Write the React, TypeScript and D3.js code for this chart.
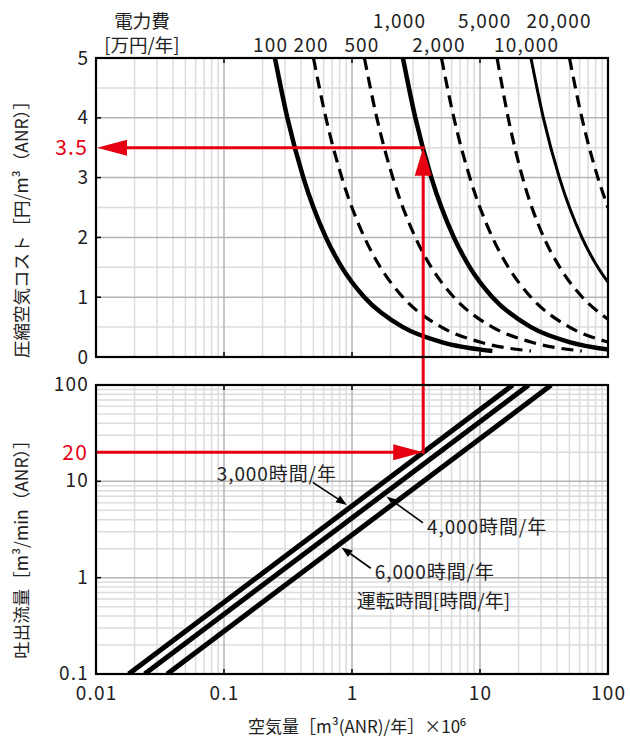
import React from 'react';
import * as d3 from 'd3';

// ---------- data ----------
const xTickValues = [0.01, 0.1, 1, 10, 100];
const xTickLabels = ['0.01', '0.1', '1', '10', '100'];
const costTickValues = [0, 1, 2, 3, 4, 5];
const flowTickValues = [0.1, 1, 10, 100];
const flowTickLabels = ['0.1', '1', '10', '100'];

// electricity cost curves: [air volume (x10^6 m3/yr), compressed air cost (yen/m3)]
const cost100 = [[0.25, 5], [0.3125, 4], [0.4167, 3], [0.625, 2], [0.833, 1.5], [1.25, 1], [2.5, 0.5], [5, 0.25], [12.5, 0.1]];
const cost200 = [[0.5, 5], [0.625, 4], [0.833, 3], [1.25, 2], [1.667, 1.5], [2.5, 1], [5, 0.5], [10, 0.25], [25, 0.1]];
const cost500 = [[1.25, 5], [1.5625, 4], [2.083, 3], [3.125, 2], [4.167, 1.5], [6.25, 1], [12.5, 0.5], [25, 0.25], [62.5, 0.1]];
const cost1000 = [[2.5, 5], [3.125, 4], [4.167, 3], [6.25, 2], [8.33, 1.5], [12.5, 1], [25, 0.5], [50, 0.25], [100, 0.125]];
const cost2000 = [[5, 5], [6.25, 4], [8.33, 3], [12.5, 2], [16.67, 1.5], [25, 1], [50, 0.5], [100, 0.25]];
const cost5000 = [[13.6, 5], [16.6, 4], [21.5, 3], [31.5, 2], [42, 1.5], [63, 1], [100, 0.63]];
const cost10000 = [[25, 5], [31.25, 4], [41.7, 3], [62.5, 2], [83.3, 1.5], [100, 1.25]];
const cost20000 = [[50, 5], [62.5, 4], [83.3, 3], [100, 2.5]];
const costSeries = [cost100, cost200, cost500, cost1000, cost2000, cost5000, cost10000, cost20000];
const costLabels = ['100', '200', '500', '1,000', '2,000', '5,000', '10,000', '20,000'];

// discharge flow lines: [air volume (x10^6 m3/yr), flow (m3/min)]
const flow3000 = [[0.018, 0.1], [18, 100]];
const flow4000 = [[0.024, 0.1], [24, 100]];
const flow6000 = [[0.036, 0.1], [36, 100]];
const flowSeries = [flow3000, flow4000, flow6000];
const flowLabels = ['3,000時間/年', '4,000時間/年', '6,000時間/年'];
// points on each line the label arrows point at: [volume, flow]
const flowArrowAnchors = [[0.97, 5.4], [1.76, 7.33], [0.78, 2.18]];

// worked example
const exampleFlow = 20;
const exampleVolume = 3.6;
const exampleCost = 3.5;

// ---------- layout / style ----------
const W = 630, H = 738;
const L = 96, R = 608;
const topY0 = 58, topY1 = 357;
const botY0 = 385, botY1 = 674;
const FONT = "'Noto Sans CJK JP', 'Noto Sans', sans-serif";
const RED = '#e60012';
const TXT = '#222';
const curveDash = [null, '12 7', '12 7', null, '12 7', '12 7', null, '12 7'];
const curveWidth = [4.5, 3.2, 3.2, 4.5, 3.2, 3.2, 3, 3.2];
const labelRow = [2, 2, 2, 1, 2, 1, 2, 1];
const labelDx = [-5, -3, -3, -4, -3, -13, -5, -11];
const arrowTail = [[-37.5, -24.8], [39.6, 28.6], [32.6, 23.2]];
const textOff = [[-133.5, -26], [43.6, 39.6], [36.6, 34.2]];
const NUM_LS = 1.2;

export default function App() {
  const x = d3.scaleLog().domain([0.01, 100]).range([L, R]);
  const yC = d3.scaleLinear().domain([0, 5]).range([topY1, topY0]);
  const yF = d3.scaleLog().domain([0.1, 100]).range([botY1, botY0]);

  const xMinor = x.ticks();
  const xMajor = xTickValues;
  const cMinor = d3.range(0, 5.01, 0.5);
  const fMinor = yF.ticks();

  const costLine = d3.line<number[]>().x(d => x(d[0])).y(d => yC(d[1])).curve(d3.curveMonotoneX);
  const flowLine = d3.line<number[]>().x(d => x(d[0])).y(d => yF(d[1]));

  const isMajor = (v: number) => Math.abs(Math.log10(v) - Math.round(Math.log10(v))) < 1e-6;

  const ex = x(exampleVolume);
  const eyF = yF(exampleFlow);
  const eyC = yC(exampleCost);

  const textBase = { fontFamily: FONT, fill: TXT };

  return (
    <svg width={W} height={H} style={{ position: 'absolute', left: 0, top: 0, background: '#fff' }}>
      <defs>
        <clipPath id="clipTop"><rect x={L} y={topY0} width={R - L} height={topY1 - topY0} /></clipPath>
        <clipPath id="clipBot"><rect x={L} y={botY0} width={R - L} height={botY1 - botY0} /></clipPath>
      </defs>
      <rect x={0} y={0} width={W} height={H} fill="#fff" />

      {/* ---------- top panel grid ---------- */}
      <g>
        {xMinor.filter(v => !isMajor(v)).map((v, i) => (
          <line key={'tvx' + i} x1={x(v)} x2={x(v)} y1={topY0} y2={topY1} stroke="#dcdcdc" strokeWidth={1.5} />
        ))}
        {cMinor.filter(v => v % 1 !== 0).map((v, i) => (
          <line key={'thm' + i} x1={L} x2={R} y1={yC(v)} y2={yC(v)} stroke="#dcdcdc" strokeWidth={1.5} />
        ))}
        {xMajor.map((v, i) => (
          <line key={'tvX' + i} x1={x(v)} x2={x(v)} y1={topY0} y2={topY1} stroke="#b4b4b4" strokeWidth={1.5} />
        ))}
        {costTickValues.map((v, i) => (
          <line key={'thM' + i} x1={L} x2={R} y1={yC(v)} y2={yC(v)} stroke="#b4b4b4" strokeWidth={1.5} />
        ))}
      </g>

      {/* ---------- bottom panel grid ---------- */}
      <g>
        {xMinor.filter(v => !isMajor(v)).map((v, i) => (
          <line key={'bvx' + i} x1={x(v)} x2={x(v)} y1={botY0} y2={botY1} stroke="#dcdcdc" strokeWidth={1.5} />
        ))}
        {fMinor.filter(v => !isMajor(v)).map((v, i) => (
          <line key={'bhm' + i} x1={L} x2={R} y1={yF(v)} y2={yF(v)} stroke="#dcdcdc" strokeWidth={1.5} />
        ))}
        {xMajor.map((v, i) => (
          <line key={'bvX' + i} x1={x(v)} x2={x(v)} y1={botY0} y2={botY1} stroke="#b4b4b4" strokeWidth={1.5} />
        ))}
        {flowTickValues.map((v, i) => (
          <line key={'bhM' + i} x1={L} x2={R} y1={yF(v)} y2={yF(v)} stroke="#b4b4b4" strokeWidth={1.5} />
        ))}
      </g>

      {/* ---------- cost curves ---------- */}
      <g clipPath="url(#clipTop)">
        {costSeries.map((s, i) => (
          <path key={'c' + i} d={costLine(s as number[][]) || ''} fill="none" stroke="#000"
            strokeWidth={curveWidth[i]} strokeDasharray={curveDash[i] || undefined} strokeLinejoin="round" />
        ))}
      </g>

      {/* ---------- flow lines ---------- */}
      <g clipPath="url(#clipBot)">
        {flowSeries.map((s, i) => (
          <path key={'f' + i} d={flowLine(s as number[][]) || ''} fill="none" stroke="#000" strokeWidth={5} />
        ))}
      </g>

      {/* ---------- red worked example ---------- */}
      <g>
        <line x1={L} x2={ex - 28} y1={eyF} y2={eyF} stroke={RED} strokeWidth={3} />
        <polygon points={`${ex},${eyF} ${ex - 30},${eyF - 8} ${ex - 30},${eyF + 8}`} fill={RED} />
        <line x1={ex} x2={ex} y1={eyF + 1.5} y2={eyC + 26} stroke={RED} strokeWidth={3} />
        <polygon points={`${ex},${eyC} ${ex - 8.5},${eyC + 28} ${ex + 8.5},${eyC + 28}`} fill={RED} />
        <line x1={ex + 1.5} x2={L + 28} y1={eyC} y2={eyC} stroke={RED} strokeWidth={3} />
        <polygon points={`${L + 1},${eyC} ${L + 31},${eyC - 8} ${L + 31},${eyC + 8}`} fill={RED} />
      </g>

      {/* ---------- frames & ticks ---------- */}
      <rect x={L} y={topY0} width={R - L} height={topY1 - topY0} fill="none" stroke="#000" strokeWidth={2.2} />
      <rect x={L} y={botY0} width={R - L} height={botY1 - botY0} fill="none" stroke="#000" strokeWidth={2.2} />
      {costTickValues.map((v, i) => (
        <line key={'tk1' + i} x1={L} x2={L + 5} y1={yC(v)} y2={yC(v)} stroke="#000" strokeWidth={1.5} />
      ))}
      {flowTickValues.map((v, i) => (
        <line key={'tk2' + i} x1={L} x2={L + 5} y1={yF(v)} y2={yF(v)} stroke="#000" strokeWidth={1.5} />
      ))}
      {xMajor.map((v, i) => (
        <g key={'tk3' + i}>
          <line x1={x(v)} x2={x(v)} y1={topY0} y2={topY0 + 5} stroke="#000" strokeWidth={1.5} />
          <line x1={x(v)} x2={x(v)} y1={topY1} y2={topY1 - 5} stroke="#000" strokeWidth={1.5} />
          <line x1={x(v)} x2={x(v)} y1={botY0} y2={botY0 + 5} stroke="#000" strokeWidth={1.5} />
          <line x1={x(v)} x2={x(v)} y1={botY1} y2={botY1 - 5} stroke="#000" strokeWidth={1.5} />
        </g>
      ))}

      {/* ---------- annotation arrows (bottom) ---------- */}
      {flowArrowAnchors.map((a, i) => {
        const ax = x(a[0]), ay = yF(a[1]);
        const tx = ax + arrowTail[i][0], ty = ay + arrowTail[i][1];
        const dx = tx - ax, dy = ty - ay;
        const len = Math.hypot(dx, dy);
        const ux = dx / len, uy = dy / len;
        const tipX = ax + ux * 4, tipY = ay + uy * 4;
        const bx = tipX + ux * 11, by = tipY + uy * 11;
        const px = -uy * 4, py = ux * 4;
        return (
          <g key={'ar' + i}>
            <line x1={tx} y1={ty} x2={bx} y2={by} stroke="#000" strokeWidth={1.6} />
            <polygon points={`${tipX},${tipY} ${bx + px},${by + py} ${bx - px},${by - py}`} fill="#000" />
            <text x={ax + textOff[i][0]} y={ay + textOff[i][1]} fontSize={19} letterSpacing={0.9} {...textBase}>{flowLabels[i]}</text>
          </g>
        );
      })}
      <text x={x(flowArrowAnchors[2][0]) + 18.6} y={yF(flowArrowAnchors[2][1]) + 63} fontSize={19} {...textBase}>運転時間[時間/年]</text>

      {/* ---------- tick labels ---------- */}
      {costTickValues.map((v, i) => (
        <text key={'cl' + i} x={88} y={yC(v)} dy="0.35em" textAnchor="end" fontSize={19} {...textBase}>{String(v)}</text>
      ))}
      {flowTickValues.map((v, i) => (
        <text key={'fl' + i} x={89} y={yF(v)} dy="0.32em" textAnchor="end" fontSize={19} letterSpacing={NUM_LS} {...textBase}>{flowTickLabels[i]}</text>
      ))}
      {xTickValues.map((v, i) => (
        <text key={'xl' + i} x={x(v) + NUM_LS / 2} y={700} textAnchor="middle" fontSize={19} letterSpacing={NUM_LS} {...textBase}>{xTickLabels[i]}</text>
      ))}
      <text x={88} y={eyC} dy="0.36em" textAnchor="end" fontSize={21} letterSpacing={NUM_LS} fontFamily={FONT} fill={RED}>{String(exampleCost)}</text>
      <text x={88} y={eyF} dy="0.36em" textAnchor="end" fontSize={21} letterSpacing={NUM_LS} fontFamily={FONT} fill={RED}>{String(exampleFlow)}</text>

      {/* ---------- electricity cost labels ---------- */}
      <text x={142} y={28} textAnchor="middle" fontSize={18.5} {...textBase}>電力費</text>
      <text x={142} y={52} textAnchor="middle" fontSize={18.5} {...textBase}>[万円/年]</text>
      {costSeries.map((s, i) => (
        <text key={'el' + i} x={x(s[0][0]) + labelDx[i] + NUM_LS / 2} y={labelRow[i] === 1 ? 28 : 52} textAnchor="middle" fontSize={19} letterSpacing={NUM_LS} {...textBase}>{costLabels[i]}</text>
      ))}

      {/* ---------- axis titles ---------- */}
      <text transform="translate(28,225) rotate(-90)" textAnchor="middle" fontSize={17.5} {...textBase}>圧縮空気コスト［円/m³（ANR）］</text>
      <text transform="translate(28,545) rotate(-90)" textAnchor="middle" fontSize={17.5} {...textBase}>吐出流量［m³/min（ANR）］</text>
      <text x={357} y={733} textAnchor="middle" fontSize={17} {...textBase}>空気量［m³(ANR)/年］×10⁶</text>
    </svg>
  );
}
